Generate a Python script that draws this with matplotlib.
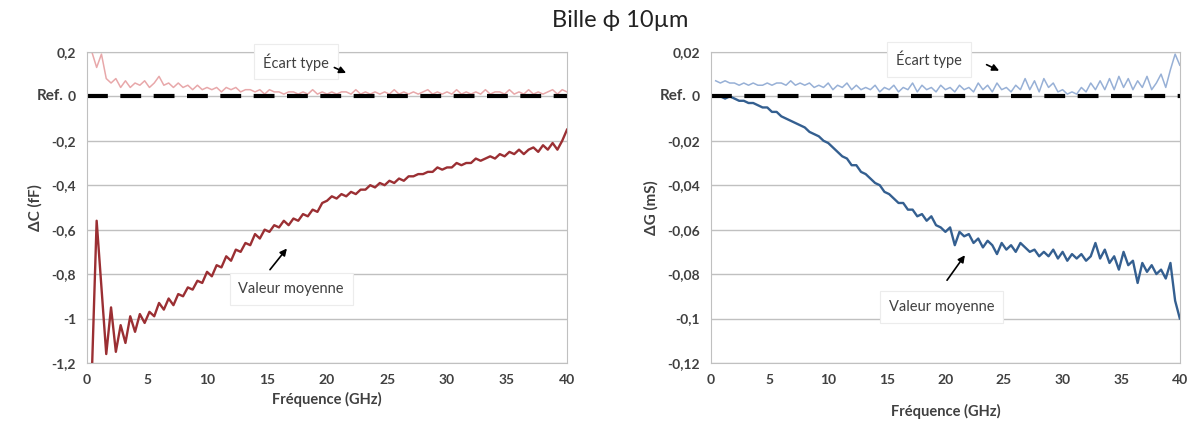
import matplotlib
matplotlib.use("Agg")
import matplotlib.pyplot as plt
import numpy as np

plt.rcParams['font.family'] = ['Lato', 'DejaVu Sans']

# frequency sweep (GHz), 0.4 GHz step
freq = np.linspace(0.4, 40, 100)

# Delta C mean value (fF)
dc_mean = [-1.25, -0.56, -0.86, -1.16, -0.95, -1.15, -1.03, -1.11, -0.99, -1.06,
           -0.98, -1.02, -0.97, -0.99, -0.93, -0.96, -0.91, -0.94, -0.89, -0.90,
           -0.86, -0.87, -0.83, -0.84, -0.79, -0.81, -0.76, -0.77, -0.72, -0.74,
           -0.69, -0.70, -0.66, -0.67, -0.62, -0.64, -0.60, -0.61, -0.58, -0.59,
           -0.56, -0.58, -0.55, -0.56, -0.53, -0.54, -0.51, -0.52, -0.48, -0.47,
           -0.45, -0.46, -0.44, -0.45, -0.43, -0.44, -0.42, -0.42, -0.40, -0.41,
           -0.39, -0.40, -0.38, -0.39, -0.37, -0.38, -0.36, -0.36, -0.35, -0.35,
           -0.34, -0.34, -0.32, -0.33, -0.32, -0.32, -0.30, -0.31, -0.30, -0.30,
           -0.28, -0.29, -0.28, -0.27, -0.28, -0.26, -0.27, -0.25, -0.26, -0.24,
           -0.26, -0.24, -0.23, -0.25, -0.22, -0.24, -0.21, -0.24, -0.20, -0.15]

# Delta C standard deviation (fF)
dc_std = [0.20, 0.13, 0.19, 0.08, 0.06, 0.08, 0.04, 0.07, 0.04, 0.06,
          0.05, 0.07, 0.04, 0.06, 0.09, 0.05, 0.06, 0.04, 0.06, 0.04,
          0.05, 0.03, 0.05, 0.03, 0.04, 0.03, 0.04, 0.02, 0.04, 0.03,
          0.04, 0.02, 0.03, 0.03, 0.02, 0.03, 0.01, 0.03, 0.02, 0.02,
          0.01, 0.02, 0.02, 0.01, 0.02, 0.01, 0.03, 0.01, 0.02, 0.01,
          0.02, 0.01, 0.02, 0.02, 0.01, 0.03, 0.01, 0.02, 0.01, 0.02,
          0.01, 0.02, 0.01, 0.03, 0.01, 0.02, 0.01, 0.02, 0.01, 0.02,
          0.03, 0.01, 0.02, 0.01, 0.02, 0.01, 0.03, 0.01, 0.02, 0.01,
          0.02, 0.01, 0.03, 0.01, 0.02, 0.02, 0.01, 0.03, 0.01, 0.02,
          0.01, 0.03, 0.01, 0.02, 0.01, 0.02, 0.03, 0.01, 0.03, 0.02]

# Delta G mean value (mS)
dg_mean = [0.000, 0.000, -0.001, 0.000, -0.001, -0.002, -0.002, -0.003, -0.003, -0.004,
           -0.005, -0.005, -0.007, -0.007, -0.009, -0.010, -0.011, -0.012, -0.013, -0.014,
           -0.016, -0.017, -0.018, -0.020, -0.021, -0.023, -0.025, -0.027, -0.028, -0.031,
           -0.031, -0.034, -0.035, -0.037, -0.039, -0.040, -0.043, -0.044, -0.046, -0.048,
           -0.048, -0.051, -0.051, -0.054, -0.053, -0.056, -0.054, -0.058, -0.059, -0.061,
           -0.059, -0.067, -0.061, -0.063, -0.062, -0.066, -0.064, -0.068, -0.065, -0.067,
           -0.071, -0.066, -0.069, -0.067, -0.070, -0.066, -0.068, -0.070, -0.069, -0.072,
           -0.070, -0.072, -0.069, -0.073, -0.070, -0.074, -0.071, -0.073, -0.071, -0.074,
           -0.072, -0.066, -0.073, -0.069, -0.075, -0.072, -0.078, -0.070, -0.076, -0.074,
           -0.084, -0.075, -0.079, -0.076, -0.080, -0.078, -0.082, -0.075, -0.092, -0.100]

# Delta G standard deviation (mS)
dg_std = [0.007, 0.006, 0.007, 0.006, 0.006, 0.005, 0.006, 0.005, 0.006, 0.005,
          0.005, 0.006, 0.005, 0.006, 0.006, 0.005, 0.007, 0.005, 0.006, 0.005,
          0.006, 0.004, 0.005, 0.004, 0.006, 0.003, 0.005, 0.004, 0.006, 0.003,
          0.005, 0.003, 0.004, 0.003, 0.005, 0.002, 0.004, 0.003, 0.005, 0.002,
          0.004, 0.003, 0.006, 0.002, 0.005, 0.003, 0.004, 0.002, 0.005, 0.003,
          0.004, 0.002, 0.005, 0.003, 0.004, 0.002, 0.006, 0.003, 0.005, 0.002,
          0.006, 0.003, 0.004, 0.002, 0.005, 0.003, 0.008, 0.003, 0.007, 0.002,
          0.008, 0.004, 0.006, 0.002, 0.003, 0.001, 0.002, 0.001, 0.004, 0.002,
          0.006, 0.003, 0.007, 0.003, 0.008, 0.003, 0.009, 0.004, 0.008, 0.003,
          0.007, 0.004, 0.009, 0.003, 0.006, 0.010, 0.004, 0.012, 0.019, 0.014]

x_ticks = [0, 5, 10, 15, 20, 25, 30, 35, 40]
dc_ticks = [0.2, 0, -0.2, -0.4, -0.6, -0.8, -1, -1.2]
dc_labels = ['0,2', '0', '-0,2', '-0,4', '-0,6', '-0,8', '-1', '-1,2']
dg_ticks = [0.02, 0, -0.02, -0.04, -0.06, -0.08, -0.1, -0.12]
dg_labels = ['0,02', '0', '-0,02', '-0,04', '-0,06', '-0,08', '-0,1', '-0,12']

txt = '#404040'
grid_c = '#c0c0c0'

fig = plt.figure(figsize=(11.99, 4.29), dpi=100)
ax1 = fig.add_axes([0.0726, 0.154, 0.4003, 0.725])
ax2 = fig.add_axes([0.593, 0.154, 0.391, 0.725])


def style_axis(ax, yticks, ylabels, ylim, ylabel):
    ax.set_xlim(0, 40)
    ax.set_ylim(*ylim)
    ax.set_xticks(x_ticks)
    ax.set_xticklabels([str(t) for t in x_ticks])
    ax.set_yticks(yticks)
    ax.set_yticklabels(ylabels)
    ax.tick_params(axis='both', colors=grid_c, labelcolor=txt, labelsize=10, length=0, pad=8)
    for lab in ax.get_xticklabels() + ax.get_yticklabels():
        lab.set_fontweight('bold')
    ax.yaxis.grid(True, color=grid_c, lw=1)
    ax.set_axisbelow(True)
    for sp in ax.spines.values():
        sp.set_color(grid_c)
    ax.set_ylabel(ylabel, fontsize=11, fontweight='bold', color=txt, labelpad=6)


# left: capacitance
style_axis(ax1, dc_ticks, dc_labels, (-1.2, 0.2), 'ΔC (fF)')
ax1.plot(freq, dc_std, color='#e8a8aa', lw=1.1)
ax1.plot(freq, dc_mean, color='#9b2f33', lw=1.7)
ax1.axhline(0, color='black', lw=3, dashes=(5, 3))
ax1.set_xlabel('Fréquence (GHz)', fontsize=10.5, fontweight='bold', color=txt, labelpad=4)
ax1.text(-0.105, 0, 'Ref.', transform=ax1.get_yaxis_transform(), ha='left', va='center',
         fontsize=11, fontweight='bold', color=txt)

# right: conductance
style_axis(ax2, dg_ticks, dg_labels, (-0.12, 0.02), 'ΔG (mS)')
ax2.plot(freq, dg_std, color='#97b0d6', lw=1.1)
ax2.plot(freq, dg_mean, color='#345f90', lw=1.7)
ax2.axhline(0, color='black', lw=3, dashes=(5, 3))
ax2.set_xlabel('Fréquence (GHz)', fontsize=10.5, fontweight='bold', color=txt, labelpad=13)
ax2.text(-0.11, 0, 'Ref.', transform=ax2.get_yaxis_transform(), ha='left', va='center',
         fontsize=11, fontweight='bold', color=txt)

box = dict(boxstyle='square,pad=0.6', fc='white', ec='#ececec', lw=0.8)
arr = dict(arrowstyle='-|>', color='black', lw=1.2, mutation_scale=10)

ax1.text(17.4, 0.155, 'Écart type', ha='center', va='center', fontsize=10.5, color=txt, bbox=box)
ax1.annotate('', xy=(21.8, 0.10), xytext=(20.4, 0.135), arrowprops=arr)
ax1.text(17.0, -0.867, 'Valeur moyenne', ha='center', va='center', fontsize=10.5, color=txt, bbox=box)
ax1.annotate('', xy=(16.8, -0.675), xytext=(15.1, -0.79), arrowprops=arr)

ax2.text(18.6, 0.0166, 'Écart type', ha='center', va='center', fontsize=10.5, color=txt, bbox=box)
ax2.annotate('', xy=(24.8, 0.011), xytext=(23.3, 0.0148), arrowprops=arr)
ax2.text(19.7, -0.0948, 'Valeur moyenne', ha='center', va='center', fontsize=10.5, color=txt, bbox=box)
ax2.annotate('', xy=(21.8, -0.0705), xytext=(20.0, -0.0838), arrowprops=arr)

fig.text(0.517, 0.952, 'Bille ϕ 10µm', ha='center', va='center', fontsize=17, color='#222222')

fig.savefig('out.png', dpi=100)
